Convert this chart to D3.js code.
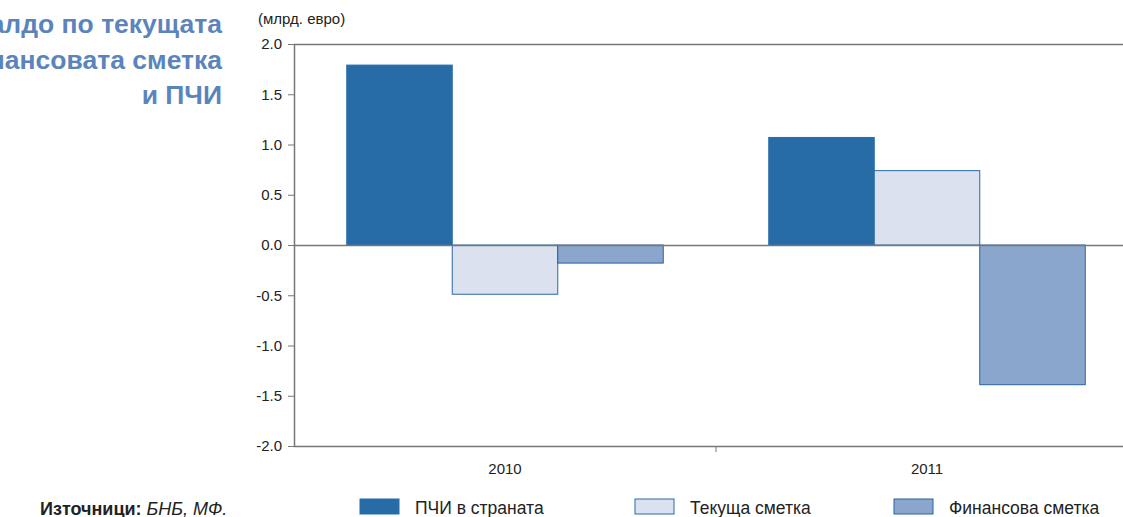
<!DOCTYPE html>
<html>
<head>
<meta charset="utf-8">
<script src="https://cdn.jsdelivr.net/npm/d3@7"></script>
<style>
  body { margin: 0; background: #fff; }
  svg { display: block; font-family: "Liberation Sans", Arial, sans-serif; }
</style>
</head>
<body>
<svg id="chart" width="1123" height="517"></svg>
<script>
var years = ["2010", "2011"];
var seriesNames = ["ПЧИ в страната", "Текуща сметка", "Финансова сметка"];
var fdi = [1.79, 1.07];
var currentAccount = [-0.49, 0.74];
var financialAccount = [-0.18, -1.39];
var yTicks = [2.0, 1.5, 1.0, 0.5, 0.0, -0.5, -1.0, -1.5, -2.0];

var fills = ["#276ca7", "#dbe1ee", "#8ba6cc"];
var strokes = ["#276ca7", "#2b6aa8", "#2a62a3"];

var rows = years.map(function(y, i) {
  return { year: y, values: [fdi[i], currentAccount[i], financialAccount[i]] };
});

var svg = d3.select("#chart");
var plotLeft = 294, plotRight = 1138, plotTop = 44, plotBottom = 446;

var x0 = d3.scaleBand().domain(years).range([plotLeft, plotRight])
  .paddingInner(0.25).paddingOuter(0.125);
var x1 = d3.scaleBand().domain(d3.range(3)).range([0, x0.bandwidth()]);
var y = d3.scaleLinear().domain([-2, 2]).range([plotBottom, plotTop]);

// title (clipped on the left like the source)
var title = svg.append("text")
  .attr("text-anchor", "end")
  .attr("font-weight", "bold")
  .attr("font-size", 26.5)
  .attr("fill", "#5b84bd");
["Салдо по текущата", "и финансовата сметка", "и ПЧИ"].forEach(function(t, i) {
  title.append("tspan").attr("x", 222).attr("y", 33 + i * 35.5).text(t);
});

svg.append("text").attr("x", 258).attr("y", 24)
  .attr("font-size", 15).attr("fill", "#222").text("(млрд.  евро)");

// bars
var g = svg.selectAll("g.grp").data(rows).enter().append("g")
  .attr("transform", function(d) { return "translate(" + x0(d.year) + ",0)"; });

g.selectAll("rect").data(function(d) { return d.values; }).enter().append("rect")
  .attr("x", function(d, i) { return x1(i); })
  .attr("width", x1.bandwidth())
  .attr("y", function(d) { return y(Math.max(0, d)); })
  .attr("height", function(d) { return Math.abs(y(d) - y(0)); })
  .attr("fill", function(d, i) { return fills[i]; })
  .attr("stroke", function(d, i) { return strokes[i]; })
  .attr("stroke-width", 1);

// frame lines
svg.append("line").attr("x1", plotLeft).attr("x2", 1123).attr("y1", plotTop + 0.5).attr("y2", plotTop + 0.5)
  .attr("stroke", "#777").attr("stroke-width", 1.5);
svg.append("line").attr("x1", plotLeft).attr("x2", 1123).attr("y1", y(0) + 0.5).attr("y2", y(0) + 0.5)
  .attr("stroke", "#777").attr("stroke-width", 1.5);

var yAxis = svg.append("g").attr("transform", "translate(" + plotLeft + ",0)")
  .call(d3.axisLeft(y).tickValues(yTicks).tickSize(6).tickSizeOuter(0));
yAxis.select(".domain").attr("stroke", "#777").attr("stroke-width", 1.5);
yAxis.selectAll(".tick line").attr("stroke", "#777");
yAxis.selectAll(".tick text").attr("font-size", 15).attr("fill", "#222")
  .attr("font-family", "Liberation Sans, Arial, sans-serif").attr("x", -12)
  .text(function(d) { return d3.format(".1f")(d).replace("−", "-"); });

var xAxis = svg.append("g").attr("transform", "translate(0," + plotBottom + ")")
  .call(d3.axisBottom(x0).tickSize(0).tickSizeOuter(0));
xAxis.select(".domain").attr("stroke", "#777").attr("stroke-width", 1.5)
  .attr("d", "M" + plotLeft + ",0.5H1123");
xAxis.selectAll(".tick text").attr("font-size", 15).attr("fill", "#222")
  .attr("font-family", "Liberation Sans, Arial, sans-serif").attr("dy", "1.65em");
// separator tick between groups
var sepX = (x0("2010") + x0.bandwidth() + x0("2011")) / 2;
svg.append("line").attr("x1", sepX).attr("x2", sepX)
  .attr("y1", plotBottom).attr("y2", plotBottom + 6).attr("stroke", "#777");

// legend
var legendX = [360, 635, 894];
var lg = svg.selectAll("g.leg").data(seriesNames).enter().append("g")
  .attr("transform", function(d, i) { return "translate(" + legendX[i] + ",499)"; });
lg.append("rect").attr("width", 39).attr("height", 15)
  .attr("fill", function(d, i) { return fills[i]; })
  .attr("stroke", function(d, i) { return strokes[i]; });
lg.append("text").attr("x", 55).attr("y", 15)
  .attr("font-size", 17.5).attr("fill", "#222")
  .attr("font-family", "'Liberation Sans Narrow', 'Arial Narrow', sans-serif")
  .text(function(d) { return d; });

// source
var src = svg.append("text").attr("x", 40).attr("y", 515).attr("font-size", 18).attr("fill", "#222");
src.append("tspan").attr("font-weight", "bold").text("Източници: ");
src.append("tspan").attr("font-style", "italic").text("БНБ, МФ.");
</script>
</body>
</html>
